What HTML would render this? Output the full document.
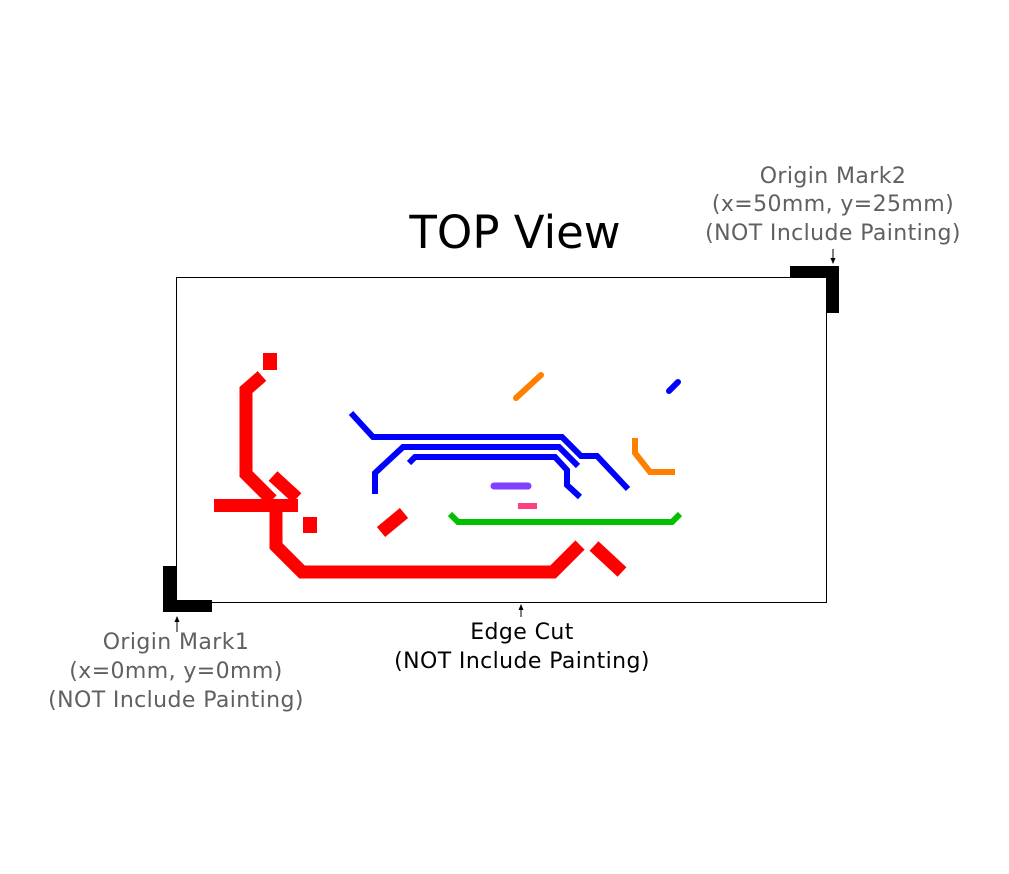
<!DOCTYPE html>
<html><head><meta charset="utf-8"><style>
html,body{margin:0;padding:0;background:#fff;}
svg{display:block;}
text{font-family:"DejaVu Sans","Liberation Sans",sans-serif;}
</style></head><body>
<svg width="1009" height="874" viewBox="0 0 1009 874" xmlns="http://www.w3.org/2000/svg">
<rect width="1009" height="874" fill="#fff"/>
<text x="515" y="248" font-size="45" text-anchor="middle" fill="#000">TOP View</text>
<rect x="176.5" y="277.5" width="650" height="325" fill="none" stroke="#000" stroke-width="1"/>
<path d="M163 566H176V600H212V612H163Z" fill="#000"/>
<path d="M790 266H839V313H826V278H790Z" fill="#000"/>
<g fill="none" stroke="#f00" stroke-width="13" stroke-linejoin="miter">
<path d="M262 376L246 390V474L272 500"/>
<path d="M276 509V546L302 572H553L580 545"/>
<path d="M273 476L297 498"/>
<path d="M381 532L404 513"/>
<path d="M594 546L622 572"/>
</g>
<rect x="214" y="499" width="84" height="13" fill="#f00"/>
<rect x="263" y="353" width="14" height="17" fill="#f00"/>
<rect x="303" y="517" width="14" height="16" fill="#f00"/>
<g fill="none" stroke="#00f" stroke-width="6" stroke-linejoin="miter">
<path d="M351 413L373 437H562L581 456H597L628 489"/>
<path d="M375 494V473L403 447H559L578 466"/>
<path d="M409 463L415 457H555L567 470V485L580 497"/>
<path d="M669 391L678 382" stroke-linecap="round"/>
</g>
<g fill="none" stroke="#ff8000" stroke-width="6">
<path d="M516 398L541 375" stroke-linecap="round"/>
<path d="M635 438V453L650 472H675"/>
</g>
<line x1="494" y1="486" x2="528" y2="486" stroke="#7f40ff" stroke-width="7" stroke-linecap="round"/>
<rect x="518" y="503" width="19" height="6" fill="#ff4080"/>
<path d="M450 514L458 522H672L680 514" fill="none" stroke="#00c000" stroke-width="6"/>
<g stroke="#000" stroke-width="1" fill="#000">
<line x1="177" y1="620" x2="177" y2="632"/><path d="M174.5 622L177 616L179.5 622Z" stroke="none"/>
<line x1="521" y1="609" x2="521" y2="617"/><path d="M518.5 610L521 604L523.5 610Z" stroke="none"/>
<line x1="833" y1="249" x2="833" y2="259"/><path d="M830.5 258L833 264L835.5 258Z" stroke="none"/>
</g>
<g font-size="22" letter-spacing="0.4" text-anchor="middle" fill="#606060">
<text x="176" y="649">Origin Mark1</text>
<text x="176" y="678">(x=0mm, y=0mm)</text>
<text x="176" y="707">(NOT Include Painting)</text>
<text x="833" y="183">Origin Mark2</text>
<text x="833" y="211">(x=50mm, y=25mm)</text>
<text x="833" y="240">(NOT Include Painting)</text>
</g>
<g font-size="22" letter-spacing="0.4" text-anchor="middle" fill="#000">
<text x="522" y="639">Edge Cut</text>
<text x="522" y="668">(NOT Include Painting)</text>
</g>
</svg>
</body></html>
